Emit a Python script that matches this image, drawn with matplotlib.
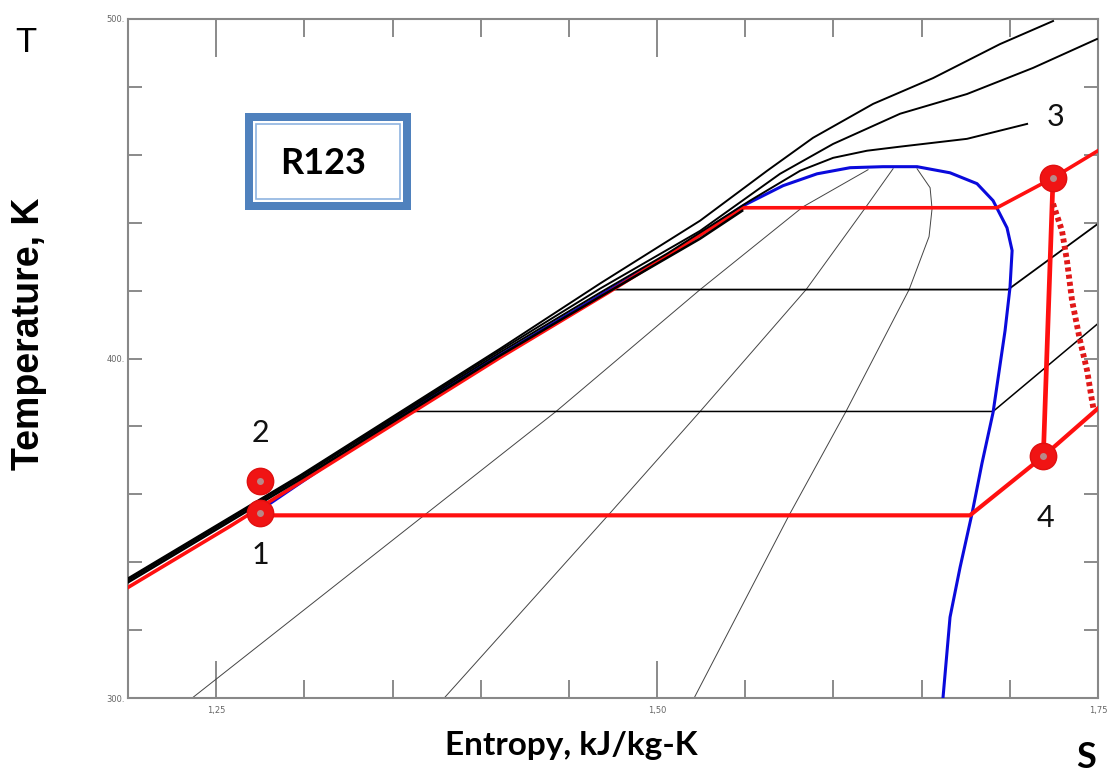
import matplotlib
matplotlib.use('Agg')
import matplotlib.pyplot as plt
from matplotlib.patches import Rectangle

# saturation dome (blue)
sat_s = [1.2749, 1.3583, 1.4722, 1.5130, 1.5488, 1.5714, 1.5907, 1.6094, 1.6281,
         1.6474, 1.6661, 1.6814, 1.6905, 1.6984, 1.7013, 1.7001, 1.6973, 1.6905,
         1.6842, 1.6786, 1.6718, 1.6661, 1.6621]
sat_T = [355.3, 384.7, 420.0, 432.6, 445.0, 450.9, 454.4, 456.2, 456.5,
         456.5, 454.7, 451.5, 446.5, 438.5, 431.8, 420.9, 408.2, 384.1,
         369.1, 354.4, 338.5, 323.8, 300.0]

# liquid line and supercritical isobars (black)
liq_s = [1.2001, 1.2976, 1.4110, 1.4677, 1.5244, 1.5482]
liq_T = [334.1, 364.4, 400.9, 418.2, 435.3, 443.5]
isoA_s = [1.2001, 1.2976, 1.4110, 1.4677, 1.5244, 1.5624, 1.5884, 1.6225, 1.6565, 1.6944, 1.7245]
isoA_T = [335.3, 365.6, 402.9, 422.1, 440.6, 455.3, 465.0, 475.0, 482.6, 492.6, 499.4]
isoB_s = [1.2001, 1.2976, 1.4110, 1.4677, 1.5244, 1.5697, 1.5998, 1.6378, 1.6757, 1.7132, 1.7494]
isoB_T = [335.0, 365.3, 402.4, 420.6, 437.6, 454.4, 463.2, 472.1, 477.9, 485.6, 494.1]
isoC_s = [1.2001, 1.2976, 1.4110, 1.4677, 1.5057, 1.5527, 1.5811, 1.5998, 1.6190, 1.6378, 1.6757, 1.7098]
isoC_T = [334.7, 365.0, 401.8, 419.4, 430.9, 446.5, 455.3, 459.1, 461.2, 462.4, 464.7, 469.1]

# subcritical isobars (black): two-phase part then superheated part
isoM_s = [1.4722, 1.6990, 1.7500]
isoM_T = [420.3, 420.3, 439.7]
isoL_s = [1.3617, 1.6905, 1.7500]
isoL_T = [384.4, 384.4, 410.3]

# constant quality lines (thin)
q1_s = [1.2364, 1.3679, 1.4427, 1.5244, 1.5828, 1.6196]
q1_T = [300.0, 353.8, 384.4, 420.3, 444.7, 455.6]
q2_s = [1.3793, 1.4722, 1.5244, 1.5845, 1.6185, 1.6338]
q2_T = [300.0, 353.8, 384.4, 420.3, 444.7, 455.9]
q3_s = [1.5210, 1.5748, 1.6071, 1.6429, 1.6542, 1.6559, 1.6548, 1.6474]
q3_T = [300.0, 353.8, 384.4, 420.3, 435.9, 444.1, 450.3, 455.9]

# ORC cycle (red)
red_liq_s = [1.2001, 1.2579, 1.2976, 1.4110, 1.4722, 1.5482]
red_liq_T = [332.6, 350.6, 363.5, 400.3, 419.4, 444.1]
red_hi_s = [1.5482, 1.6927, 1.7245, 1.7500]
red_hi_T = [444.4, 444.4, 453.2, 461.2]
red_lo_s = [1.2750, 1.6774, 1.7190, 1.7500]
red_lo_T = [353.8, 353.8, 371.2, 385.3]
exp_s = [1.7245, 1.7190]
exp_T = [453.2, 371.2]
real_exp_s = [1.7245, 1.7296, 1.7324, 1.7353, 1.7398, 1.7438, 1.7466, 1.7475]
real_exp_T = [445.6, 437.6, 428.8, 417.0, 405.3, 396.5, 387.6, 385.0]

state_s = [1.2750, 1.2750, 1.7245, 1.7190]
state_T = [354.4, 364.0, 453.2, 371.2]
state_lbl = ['1', '2', '3', '4']
lbl_s = [1.2750, 1.2750, 1.7260, 1.7200]
lbl_T = [342.0, 378.0, 471.0, 353.0]

W, H = 1109, 774
fig = plt.figure(figsize=(W / 100, H / 100), dpi=100)
ax = fig.add_axes([128 / W, 1 - 698 / H, 970 / W, 679 / H])

ax.plot(q1_s, q1_T, color='#444444', lw=0.7)
ax.plot(q2_s, q2_T, color='#444444', lw=0.7)
ax.plot(q3_s, q3_T, color='#444444', lw=0.7)
ax.plot(isoM_s, isoM_T, color='black', lw=1.3)
ax.plot(isoL_s, isoL_T, color='black', lw=1.1)

ax.plot(sat_s, sat_T, color='#0a0adc', lw=2.2, zorder=3)
ax.plot(red_liq_s, red_liq_T, color='#ff1010', lw=2.6, zorder=4)
ax.plot(liq_s, liq_T, color='black', lw=1.8, zorder=5)
for s, T in [(isoA_s, isoA_T), (isoB_s, isoB_T), (isoC_s, isoC_T)]:
    ax.plot(s, T, color='black', lw=1.4, zorder=5)

ax.plot(red_hi_s, red_hi_T, color='#ff1010', lw=2.6, zorder=4)
ax.plot(red_lo_s, red_lo_T, color='#ff1010', lw=3.0, zorder=4)
ax.plot(exp_s, exp_T, color='#ff1010', lw=3.4, zorder=4)
ax.plot(real_exp_s, real_exp_T, color='#e01818', lw=4.2, ls=(0, (0.7, 0.55)), zorder=4)

ax.plot(state_s, state_T, 'o', ms=19, color='#f01414', mec='#e01010', zorder=6)
ax.plot(state_s, state_T, 'o', ms=5, color='#b88888', mec='none', zorder=7)
for s, T, t in zip(lbl_s, lbl_T, state_lbl):
    ax.text(s, T, t, fontsize=22, family='Lato', ha='center', va='center', color='#111111')

ax.set_xlim(1.2, 1.75)
ax.set_ylim(300, 500)
ax.set_xticks([1.25, 1.5, 1.75])
ax.set_xticklabels(['1,25', '1,50', '1,75'])
ax.set_xticks([1.3, 1.35, 1.4, 1.45, 1.55, 1.6, 1.65, 1.7], minor=True)
ax.set_yticks([300, 400, 500])
ax.set_yticklabels(['300.', '400.', '500.'])
ax.set_yticks([320, 340, 360, 380, 420, 440, 460, 480], minor=True)
ax.tick_params(which='both', direction='in', top=True, right=True, colors='#777777',
               labelsize=6, labelcolor='#666666', width=1.2)
ax.tick_params(axis='x', which='major', length=27, pad=6)
ax.tick_params(axis='x', which='minor', length=13)
ax.tick_params(axis='y', which='both', length=10, pad=2)
for sp in ax.spines.values():
    sp.set_color('#888888')
    sp.set_linewidth(1.5)

# R123 label box
def fpx(x, y):
    return x / W, 1 - y / H

x0, y0 = fpx(245, 210)
fig.patches.append(Rectangle((x0, y0), 166 / W, 97 / H, transform=fig.transFigure,
                             facecolor='#4f81bd', edgecolor='none', zorder=10))
x0, y0 = fpx(253, 202)
fig.patches.append(Rectangle((x0, y0), 150 / W, 81 / H, transform=fig.transFigure,
                             facecolor='white', edgecolor='none', zorder=11))
x0, y0 = fpx(256, 199)
fig.patches.append(Rectangle((x0, y0), 144 / W, 75 / H, transform=fig.transFigure,
                             facecolor='none', edgecolor='#8fb4e0', lw=1.2, zorder=12))
fig.text(*fpx(323, 163), 'R123', fontsize=26, family='Lato', weight='bold',
         ha='center', va='center', zorder=13)

fig.text(*fpx(26, 42), 'T', fontsize=25, family='Liberation Sans', ha='center', va='center')
fig.text(*fpx(29, 334), 'Temperature, K', fontsize=27, family='Liberation Sans', weight='bold',
         rotation=90, ha='center', va='center')
fig.text(*fpx(571, 746), 'Entropy, kJ/kg-K', fontsize=24, family='Lato', weight='bold',
         ha='center', va='center')
fig.text(*fpx(1086, 757), 'S', fontsize=26, family='Lato', weight='bold', ha='center', va='center')

fig.savefig('out.png', dpi=100)
